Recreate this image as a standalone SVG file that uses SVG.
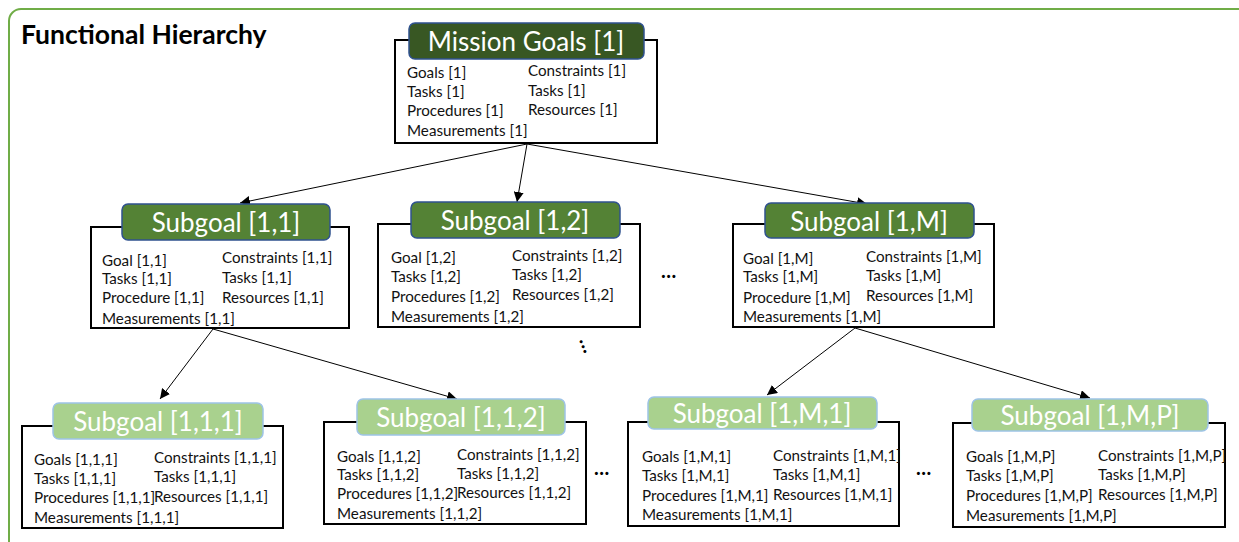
<svg xmlns="http://www.w3.org/2000/svg" width="1239" height="542" viewBox="0 0 1239 542">
  <style>
    .frame { fill: #ffffff; stroke: #70ad47; stroke-width: 2; }
    .title { font-family: Lato, "Liberation Sans", sans-serif; font-weight: bold; font-size: 26.5px; fill: #000; }
    .box { fill: #ffffff; stroke: #000; stroke-width: 2; }
    .h1 { fill: #385723; stroke: #2f528f; stroke-width: 1.5; }
    .h2 { fill: #548235; stroke: #2f528f; stroke-width: 1.5; }
    .h3 { fill: #a9d18e; stroke: #9dc3e6; stroke-width: 1.5; }
    .hd { font-family: Lato, "Liberation Sans", sans-serif; font-size: 26px; fill: #ffffff; text-anchor: middle; }
    .tx { font-family: Lato, "Liberation Sans", sans-serif; font-size: 15.2px; fill: #111; }
    .dots { font-family: Lato, "Liberation Sans", sans-serif; font-size: 20px; font-weight: bold; letter-spacing: 0.5px; fill: #000; }
    .link { stroke: #000; stroke-width: 1; fill: none; marker-end: url(#arrow); }
  </style>
  <defs>
    <marker id="arrow" viewBox="0 0 10 10" refX="10" refY="5" markerWidth="10" markerHeight="10" markerUnits="userSpaceOnUse" orient="auto">
      <path d="M0,0 L10,5 L0,10 z" fill="#000"/>
    </marker>
  </defs>

  <!-- outer frame -->
  <rect class="frame" x="9" y="9" width="1260" height="545" rx="12"/>
  <text class="title" x="21" y="44">Functional Hierarchy</text>

  <!-- connectors -->
  <g id="connectors">
    <line class="link" x1="527" y1="144" x2="240" y2="203"/>
    <line class="link" x1="527" y1="144" x2="517" y2="202"/>
    <line class="link" x1="527" y1="144" x2="867" y2="204"/>
    <line class="link" x1="213" y1="329" x2="160" y2="399"/>
    <line class="link" x1="213" y1="329" x2="457" y2="399"/>
    <line class="link" x1="855" y1="328" x2="767" y2="395"/>
    <line class="link" x1="855" y1="328" x2="1090" y2="398"/>
  </g>

  <!-- Mission Goals -->
  <g id="mission">
    <rect class="box" x="395" y="40" width="262" height="103"/>
    <rect class="h1" x="409" y="23" width="235" height="36" rx="6"/>
    <text class="hd" x="526" y="51" font-size="28">Mission Goals [1]</text>
    <text class="tx" x="407" y="78">Goals [1]</text>
    <text class="tx" x="407" y="97">Tasks [1]</text>
    <text class="tx" x="407" y="116">Procedures [1]</text>
    <text class="tx" x="407" y="136">Measurements [1]</text>
    <text class="tx" x="528" y="76">Constraints [1]</text>
    <text class="tx" x="528" y="96">Tasks [1]</text>
    <text class="tx" x="528" y="115">Resources [1]</text>
  </g>

  <!-- Subgoal [1,1] -->
  <g id="sg11">
    <rect class="box" x="91" y="227" width="258" height="101"/>
    <rect class="h2" x="122" y="204" width="208" height="36" rx="6"/>
    <text class="hd" x="226" y="232">Subgoal [1,1]</text>
    <text class="tx" x="102" y="266">Goal [1,1]</text>
    <text class="tx" x="102" y="284">Tasks [1,1]</text>
    <text class="tx" x="102" y="303">Procedure [1,1]</text>
    <text class="tx" x="102" y="324">Measurements [1,1]</text>
    <text class="tx" x="222" y="263">Constraints [1,1]</text>
    <text class="tx" x="222" y="283">Tasks [1,1]</text>
    <text class="tx" x="222" y="303">Resources [1,1]</text>
  </g>

  <!-- Subgoal [1,2] -->
  <g id="sg12">
    <rect class="box" x="378" y="224" width="262" height="103"/>
    <rect class="h2" x="411" y="202" width="209" height="36" rx="6"/>
    <text class="hd" x="515" y="230">Subgoal [1,2]</text>
    <text class="tx" x="391" y="263">Goal [1,2]</text>
    <text class="tx" x="391" y="282">Tasks [1,2]</text>
    <text class="tx" x="391" y="302">Procedures [1,2]</text>
    <text class="tx" x="391" y="322">Measurements [1,2]</text>
    <text class="tx" x="512" y="261">Constraints [1,2]</text>
    <text class="tx" x="512" y="280">Tasks [1,2]</text>
    <text class="tx" x="512" y="300">Resources [1,2]</text>
  </g>

  <!-- Subgoal [1,M] -->
  <g id="sg1M">
    <rect class="box" x="733" y="224" width="261" height="103"/>
    <rect class="h2" x="765" y="203" width="209" height="35" rx="6"/>
    <text class="hd" x="869" y="231">Subgoal [1,M]</text>
    <text class="tx" x="743" y="264">Goal [1,M]</text>
    <text class="tx" x="743" y="282">Tasks [1,M]</text>
    <text class="tx" x="743" y="303">Procedure [1,M]</text>
    <text class="tx" x="743" y="322">Measurements [1,M]</text>
    <text class="tx" x="866" y="262">Constraints [1,M]</text>
    <text class="tx" x="866" y="281">Tasks [1,M]</text>
    <text class="tx" x="866" y="301">Resources [1,M]</text>
  </g>

  <!-- Subgoal [1,1,1] -->
  <g id="sg111">
    <rect class="box" x="22" y="426" width="261" height="102"/>
    <rect class="h3" x="53" y="403" width="210" height="36" rx="6"/>
    <text class="hd" x="158" y="431">Subgoal [1,1,1]</text>
    <text class="tx" x="34" y="465">Goals [1,1,1]</text>
    <text class="tx" x="34" y="484">Tasks [1,1,1]</text>
    <text class="tx" x="34" y="503">Procedures [1,1,1]</text>
    <text class="tx" x="34" y="523">Measurements [1,1,1]</text>
    <text class="tx" x="154" y="463">Constraints [1,1,1]</text>
    <text class="tx" x="154" y="482">Tasks [1,1,1]</text>
    <text class="tx" x="154" y="502">Resources [1,1,1]</text>
  </g>

  <!-- Subgoal [1,1,2] -->
  <g id="sg112">
    <rect class="box" x="324" y="422" width="262" height="102"/>
    <rect class="h3" x="357" y="399" width="208" height="36" rx="6"/>
    <text class="hd" x="461" y="427">Subgoal [1,1,2]</text>
    <text class="tx" x="337" y="462">Goals [1,1,2]</text>
    <text class="tx" x="337" y="480">Tasks [1,1,2]</text>
    <text class="tx" x="337" y="499">Procedures [1,1,2]</text>
    <text class="tx" x="337" y="519">Measurements [1,1,2]</text>
    <text class="tx" x="457" y="460">Constraints [1,1,2]</text>
    <text class="tx" x="457" y="479">Tasks [1,1,2]</text>
    <text class="tx" x="457" y="498">Resources [1,1,2]</text>
  </g>

  <!-- Subgoal [1,M,1] -->
  <g id="sg1M1">
    <rect class="box" x="628" y="422" width="271" height="104"/>
    <rect class="h3" x="648" y="397" width="229" height="32" rx="6"/>
    <text class="hd" x="762" y="423">Subgoal [1,M,1]</text>
    <text class="tx" x="642" y="462">Goals [1,M,1]</text>
    <text class="tx" x="642" y="481">Tasks [1,M,1]</text>
    <text class="tx" x="642" y="501">Procedures [1,M,1]</text>
    <text class="tx" x="642" y="520">Measurements [1,M,1]</text>
    <text class="tx" x="773" y="461">Constraints [1,M,1]</text>
    <text class="tx" x="773" y="480">Tasks [1,M,1]</text>
    <text class="tx" x="773" y="500">Resources [1,M,1]</text>
  </g>

  <!-- Subgoal [1,M,P] -->
  <g id="sg1MP">
    <rect class="box" x="953" y="423" width="272" height="104"/>
    <rect class="h3" x="972" y="399" width="236" height="32" rx="6"/>
    <text class="hd" x="1090" y="425">Subgoal [1,M,P]</text>
    <text class="tx" x="966" y="462">Goals [1,M,P]</text>
    <text class="tx" x="966" y="481">Tasks [1,M,P]</text>
    <text class="tx" x="966" y="501">Procedures [1,M,P]</text>
    <text class="tx" x="966" y="521">Measurements [1,M,P]</text>
    <text class="tx" x="1098" y="461">Constraints [1,M,P]</text>
    <text class="tx" x="1098" y="480">Tasks [1,M,P]</text>
    <text class="tx" x="1098" y="500">Resources [1,M,P]</text>
  </g>

  <!-- ellipses marking omitted siblings -->
  <g id="ellipses">
    <text class="dots" x="661" y="278">...</text>
    <text class="dots" x="0" y="0" transform="translate(579,340) rotate(69)">...</text>
    <text class="dots" x="594" y="475">...</text>
    <text class="dots" x="916" y="475">...</text>
  </g>
</svg>
